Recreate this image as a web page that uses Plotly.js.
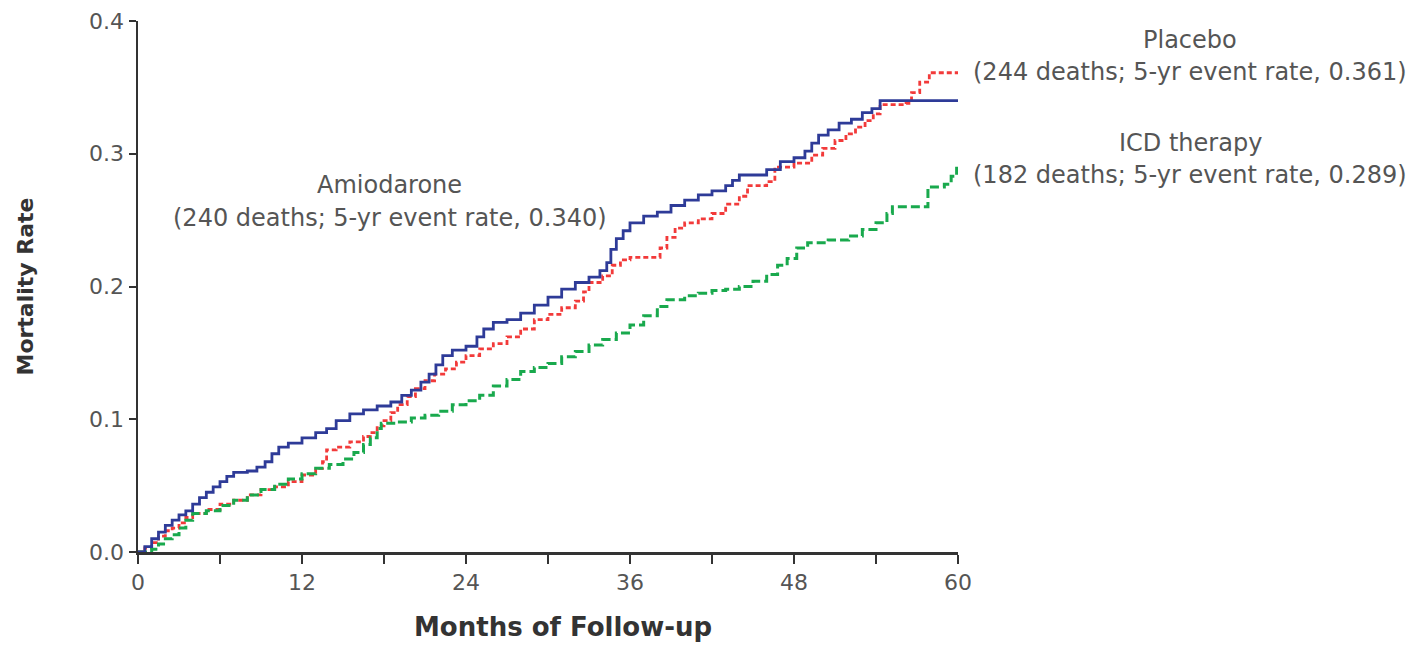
<!DOCTYPE html>
<html><head><meta charset="utf-8">
<script src="https://cdn.plot.ly/plotly-3.0.1.min.js"></script>
<style>html,body{margin:0;padding:0;background:#fff}#chart{width:1420px;height:646px}</style>
</head><body><div id="chart"></div>
<script>
// Months of follow-up and cumulative mortality (Kaplan-Meier style steps)
const amioMonths = [0,0.5,1,1.5,2,2.5,3,3.5,4,4.5,5,5.5,6,6.5,7,8,8.7,9.3,9.8,10.3,11,12,13,13.8,14.5,15.5,16.5,17.5,18.5,19.3,20,20.7,21.3,21.8,22.3,23,24,24.8,25.3,26,27,28,29,30,31,32,33,33.8,34.3,34.6,35,35.5,36,37,38,39,40,41,42,43,43.5,44,46,47,48,48.8,49.3,49.8,50.5,51.3,52.2,53,53.7,54.3,60];
const amioRate   = [0,0.004,0.01,0.015,0.02,0.024,0.028,0.031,0.036,0.041,0.045,0.049,0.053,0.057,0.06,0.061,0.064,0.068,0.074,0.079,0.082,0.086,0.09,0.093,0.099,0.104,0.107,0.11,0.113,0.118,0.122,0.128,0.134,0.141,0.148,0.152,0.155,0.162,0.168,0.173,0.175,0.18,0.186,0.192,0.198,0.203,0.207,0.212,0.218,0.228,0.236,0.242,0.248,0.253,0.256,0.261,0.265,0.269,0.272,0.276,0.28,0.284,0.288,0.294,0.297,0.302,0.308,0.314,0.318,0.323,0.326,0.331,0.334,0.34,0.34];

const placMonths = [0,0.5,1,1.5,2,2.5,3,3.5,4,5,6,7,8,9,10,11,12,13,13.5,13.8,14.5,15.5,16.5,17,17.5,18,18.5,19,19.7,20.3,21,21.7,22.5,23.3,24,25,26,27,28,29,30,31,32,32.6,33,34,34.7,35.3,36,38.2,38.7,39.3,40,41,42,43,44,44.6,46,46.6,48,49.3,50.1,51,51.8,52.5,53.2,53.8,54.3,56.2,56.6,57.2,57.9,60];
const placRate   = [0,0.003,0.007,0.012,0.016,0.018,0.022,0.026,0.029,0.032,0.036,0.039,0.043,0.047,0.049,0.053,0.058,0.063,0.068,0.077,0.079,0.083,0.087,0.09,0.095,0.099,0.105,0.111,0.117,0.123,0.129,0.134,0.138,0.143,0.148,0.153,0.157,0.162,0.168,0.175,0.179,0.184,0.189,0.196,0.203,0.208,0.216,0.22,0.222,0.229,0.237,0.244,0.248,0.251,0.255,0.262,0.268,0.276,0.279,0.29,0.293,0.299,0.304,0.31,0.315,0.32,0.325,0.33,0.337,0.338,0.346,0.354,0.361,0.361];

const icdMonths = [0,1,1.5,2,2.5,3,3.5,4,5,6,7,8,9,10,11,12,13,14,15,15.8,16.5,17,17.5,17.8,19,20,21,22,23,24,25,26,27,28,29,30,31,32,33,34,35,36,37,38,38.7,40,41,42,43,44,45,46,46.8,47.5,48.2,49,50.5,52,53,54,54.8,55.2,57.8,59,59.5,59.9,60];
const icdRate   = [0,0.002,0.006,0.01,0.013,0.018,0.024,0.029,0.031,0.035,0.039,0.043,0.047,0.051,0.055,0.059,0.063,0.066,0.07,0.075,0.081,0.086,0.093,0.097,0.098,0.101,0.103,0.106,0.111,0.114,0.118,0.125,0.13,0.136,0.139,0.142,0.147,0.151,0.156,0.16,0.165,0.171,0.178,0.185,0.19,0.193,0.195,0.197,0.198,0.2,0.204,0.209,0.216,0.221,0.229,0.233,0.235,0.238,0.243,0.248,0.255,0.26,0.275,0.277,0.283,0.289,0.289];

const xTickVals = [0,6,12,18,24,30,36,42,48,54,60];
const xTickText = ['0','','12','','24','','36','','48','','60'];
const yTickVals = [0,0.1,0.2,0.3,0.4];

const labels = [
  {name:'Amiodarone', detail:'(240 deaths; 5-yr event rate, 0.340)'},
  {name:'Placebo', detail:'(244 deaths; 5-yr event rate, 0.361)'},
  {name:'ICD therapy', detail:'(182 deaths; 5-yr event rate, 0.289)'}
];
const xTitle = 'Months of Follow-up';
const yTitle = 'Mortality Rate';

const FONT = 'DejaVu Sans, sans-serif';
const traces = [
  {x:placMonths, y:placRate, type:'scatter', mode:'lines', line:{shape:'hv', color:'#f23a3a', width:2.8, dash:'5px,3px'}, hoverinfo:'skip'},
  {x:icdMonths, y:icdRate, type:'scatter', mode:'lines', line:{shape:'hv', color:'#19a94d', width:3, dash:'9px,4px'}, hoverinfo:'skip'},
  {x:amioMonths, y:amioRate, type:'scatter', mode:'lines', line:{shape:'hv', color:'#2e3b98', width:2.8}, hoverinfo:'skip'}
];

const annFont = {family:FONT, size:24, color:'#555'};
const ann = (t,x,y) => ({text:t, xref:'paper', yref:'paper', x:x, y:y, xanchor:'center', yanchor:'middle', showarrow:false, font:annFont});

const layout = {
  width:1420, height:646,
  margin:{l:138, r:462, t:21, b:94},
  paper_bgcolor:'#fff', plot_bgcolor:'#fff',
  showlegend:false,
  xaxis:{range:[0,60], tickvals:xTickVals, ticktext:xTickText, ticks:'outside', ticklen:9, tickwidth:2, tickcolor:'#333',
         showline:true, linecolor:'#333', linewidth:2.5, showgrid:false, zeroline:false,
         tickfont:{family:FONT, size:22, color:'#555'}},
  yaxis:{range:[0,0.4], tickvals:yTickVals, tickformat:'.1f', ticks:'outside', ticklen:7, tickwidth:2, tickcolor:'#333',
         showline:true, linecolor:'#333', linewidth:2.5, showgrid:false, zeroline:false,
         tickfont:{family:FONT, size:22, color:'#555'},
         title:{text:'<b>' + yTitle + '</b>', font:{family:FONT, size:22, color:'#333'}, standoff:50}},
  annotations:[
    ann(labels[0].name, 0.307, 0.691), ann(labels[0].detail, 0.307, 0.629),
    ann(labels[1].name, 1.283, 0.964), ann(labels[1].detail, 1.283, 0.904),
    ann(labels[2].name, 1.283, 0.770), ann(labels[2].detail, 1.283, 0.710),
    {text:'<b>' + xTitle + '</b>', xref:'paper', yref:'paper', x:0.518, y:-0.141, xanchor:'center', yanchor:'middle',
     showarrow:false, borderpad:0, font:{family:FONT, size:26, color:'#333'}}
  ]
};
Plotly.newPlot('chart', traces, layout, {staticPlot:true, displayModeBar:false});
</script></body></html>
